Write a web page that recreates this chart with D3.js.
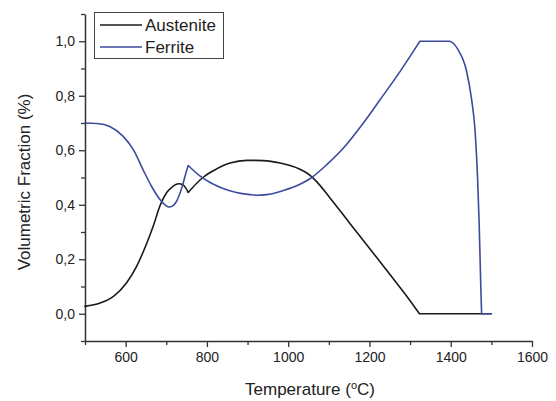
<!DOCTYPE html>
<html>
<head>
<meta charset="utf-8">
<script src="https://cdn.jsdelivr.net/npm/d3@7"></script>
<style>
  body { margin: 0; background: #fff; }
  text { font-family: "Liberation Sans", Arial, sans-serif; fill: #222; }
</style>
</head>
<body>
<div id="chart-area"></div>
<script>
// data
var austT = [500, 537, 570, 602, 627, 652, 668, 685, 701, 715, 730, 742, 754,
    790, 816, 857, 898, 939, 980, 1029, 1054, 1070, 1103, 1150, 1200, 1250, 1290, 1323, 1500];
var austV = [0.027, 0.039, 0.064, 0.113, 0.174, 0.259, 0.322, 0.398, 0.445, 0.466, 0.477, 0.472, 0.445,
    0.500, 0.525, 0.553, 0.563, 0.562, 0.553, 0.530, 0.508, 0.485, 0.425, 0.335, 0.240, 0.145, 0.068, 0, 0];
// sharp corners of each curve
var austBreaks = [754, 1323];

var ferrT = [500, 530, 561, 594, 619, 643, 664, 685, 700, 707, 715, 725, 738, 750, 754,
    785, 810, 840, 870, 906, 922, 947, 988, 1029, 1058, 1095, 1136, 1185, 1226, 1267, 1308, 1324,
    1396, 1418, 1439, 1451, 1460, 1466, 1470, 1474, 1476, 1500];
var ferrV = [0.70, 0.698, 0.687, 0.651, 0.602, 0.528, 0.467, 0.418, 0.396, 0.392, 0.395, 0.412, 0.461, 0.525, 0.544,
    0.503, 0.480, 0.460, 0.446, 0.437, 0.435, 0.437, 0.452, 0.475, 0.50, 0.547, 0.608, 0.700, 0.785, 0.871, 0.963, 1.0,
    1.0, 0.969, 0.89, 0.79, 0.67, 0.50, 0.33, 0.10, 0, 0];
var ferrBreaks = [754, 1324, 1476];

var seriesNames = ["Austenite", "Ferrite"];
var seriesColors = ["#1a1a1a", "#3d4a9c"];

var xMajor = [600, 800, 1000, 1200, 1400, 1600];
var xMinor = [500, 700, 900, 1100, 1300, 1500];
var yMajor = [0, 0.2, 0.4, 0.6, 0.8, 1.0];
var yMinor = [-0.1, 0.1, 0.3, 0.5, 0.7, 0.9, 1.1];

var width = 556, height = 401;

var svg = d3.select("#chart-area")
    .append("svg")
        .attr("width", width)
        .attr("height", height);

var x = d3.scaleLinear().domain([500, 1600]).range([85, 532]);
var y = d3.scaleLinear().domain([-0.1, 1.1]).range([341, 14]);

var comma = function(d) { return d3.format(".1f")(d).replace(".", ","); };

// minor ticks first, then major axes with labels
svg.append("g")
    .attr("transform", "translate(0,341)")
    .call(d3.axisBottom(x).tickValues(xMinor).tickSize(4).tickFormat(""))
    .call(g => g.select(".domain").remove());
svg.append("g")
    .attr("transform", "translate(85,0)")
    .call(d3.axisLeft(y).tickValues(yMinor).tickSize(4).tickFormat(""))
    .call(g => g.select(".domain").remove());

var xAxis = svg.append("g")
    .attr("transform", "translate(0,341)")
    .call(d3.axisBottom(x).tickValues(xMajor).tickSize(6).tickSizeOuter(0).tickPadding(5).tickFormat(d3.format("d")));
var yAxis = svg.append("g")
    .attr("transform", "translate(85,0)")
    .call(d3.axisLeft(y).tickValues(yMajor).tickSize(6).tickSizeOuter(0).tickPadding(4).tickFormat(comma));

svg.selectAll(".tick line").attr("stroke", "#333").attr("stroke-width", 1.3);
svg.selectAll(".domain").attr("stroke", "#333").attr("stroke-width", 1.5);
svg.selectAll(".tick text").attr("font-size", 14).attr("fill", "#222")
    .attr("font-family", "Liberation Sans, Arial, sans-serif");

// curves: smooth between corners, sharp at the corners
var line = d3.line()
    .x(d => x(d[0]))
    .y(d => y(d[1]))
    .curve(d3.curveMonotoneX);

function piecewise(ts, vs, breaks) {
    var pts = d3.zip(ts, vs);
    var segs = [], cur = [];
    pts.forEach(function(p) {
        cur.push(p);
        if (breaks.indexOf(p[0]) >= 0) {
            segs.push(cur);
            cur = [p];
        }
    });
    if (cur.length > 1) segs.push(cur);
    return segs.map(s => line(s)).join("");
}

var series = [
    piecewise(austT, austV, austBreaks),
    piecewise(ferrT, ferrV, ferrBreaks)
];

svg.selectAll("path.series")
    .data(series)
    .join("path")
        .attr("class", "series")
        .attr("fill", "none")
        .attr("stroke", (d, i) => seriesColors[i])
        .attr("stroke-width", 1.6)
        .attr("stroke-linecap", "round")
        .attr("stroke-linejoin", "round")
        .attr("d", d => d);

// legend
var legend = svg.append("g");
legend.append("rect")
    .attr("x", 94.5).attr("y", 12.5)
    .attr("width", 129).attr("height", 46)
    .attr("fill", "#fff")
    .attr("stroke", "#444")
    .attr("stroke-width", 1);

seriesNames.forEach(function(name, i) {
    var ly = 25 + i * 22;
    legend.append("line")
        .attr("x1", 100).attr("x2", 142)
        .attr("y1", ly).attr("y2", ly)
        .attr("stroke", seriesColors[i])
        .attr("stroke-width", 1.6);
    legend.append("text")
        .attr("x", 145).attr("y", ly + 6)
        .attr("font-size", 17)
        .text(name);
});

// axis titles
var xt = svg.append("text")
    .attr("x", 310).attr("y", 395)
    .attr("text-anchor", "middle")
    .attr("font-size", 17);
xt.append("tspan").text("Temperature (");
xt.append("tspan").attr("font-size", 11).attr("dy", -6).text("o");
xt.append("tspan").attr("dy", 6).text("C)");

svg.append("text")
    .attr("transform", "translate(30,182) rotate(-90)")
    .attr("text-anchor", "middle")
    .attr("font-size", 17)
    .text("Volumetric Fraction (%)");
</script>
</body>
</html>
